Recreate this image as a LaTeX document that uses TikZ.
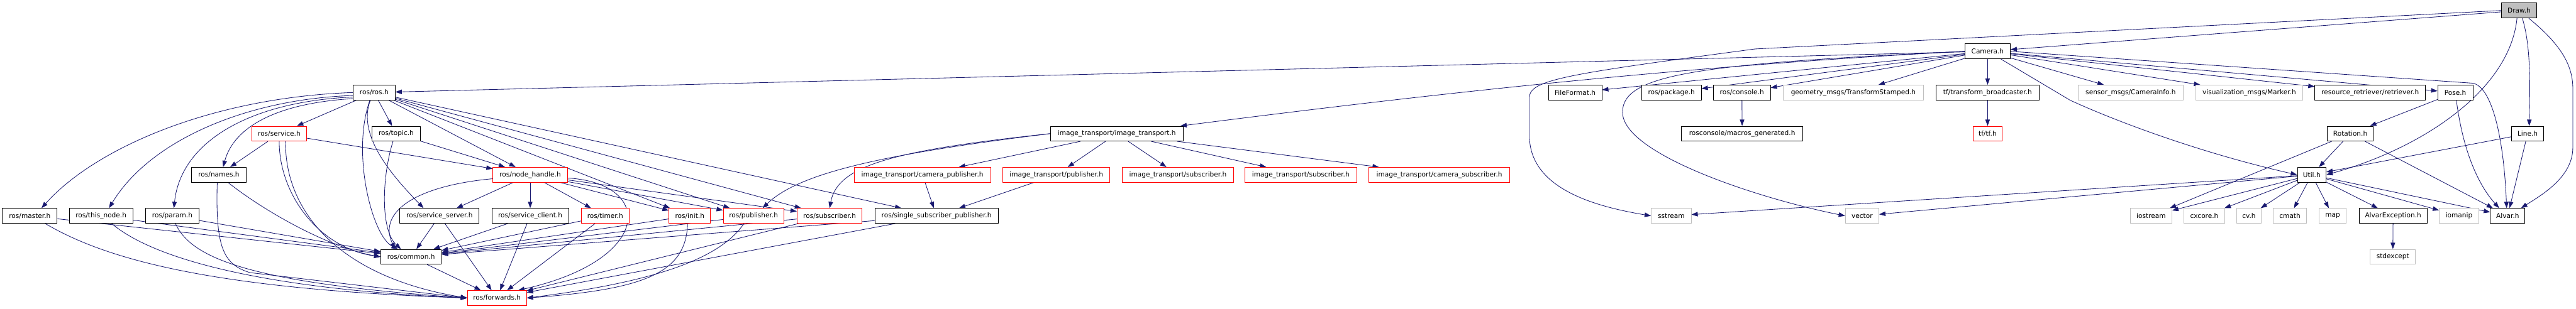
\documentclass[tikz,border=0pt]{standalone}
\usepackage{fontspec}
\setmainfont{DejaVu Sans}
\usetikzlibrary{arrows.meta}
\pgfdeclarelayer{edgelayer}
\pgfsetlayers{edgelayer,main}
\definecolor{edgecol}{HTML}{191970}
\definecolor{extgray}{HTML}{BFBFBF}
\definecolor{rootfill}{HTML}{BFBFBF}
\tikzset{
  hbox/.style={draw=black, fill=white, line width=1pt, minimum height=28pt, inner sep=0pt, font=\fontsize{12.5}{14}\selectfont},
  extbox/.style={hbox, draw=extgray},
  redbox/.style={hbox, draw=red},
  rootbox/.style={hbox, fill=rootfill},
  dep/.style={draw=edgecol, line width=1pt, -{Triangle[length=12pt,width=8.5pt]}},
}
\begin{document}
\begin{tikzpicture}[x=1pt, y=-1.11111pt]
\useasboundingbox (0,0) rectangle (4844,522.9);
% row 0 / camera row
\node[rootbox, minimum width=66pt] (draw) at (4737,17.8) {Draw.h};
\node[hbox, minimum width=85pt] (camera) at (3737.5,87) {Camera.h};
% row 1
\node[hbox, minimum width=79pt] (ros) at (703.5,156.8) {ros/ros.h};
\node[hbox, minimum width=100pt] (fileformat) at (2962,156.8) {FileFormat.h};
\node[hbox, minimum width=112pt] (package) at (3143,156.8) {ros/package.h};
\node[hbox, minimum width=107pt] (console) at (3275.5,156.8) {ros/console.h};
\node[extbox, minimum width=264pt] (geom) at (3485,156.8) {geometry\_msgs/TransformStamped.h};
\node[hbox, minimum width=193pt] (tfb) at (3737.5,156.8) {tf/transform\_broadcaster.h};
\node[extbox, minimum width=197pt] (sensor) at (4006.5,156.8) {sensor\_msgs/CameraInfo.h};
\node[extbox, minimum width=201pt] (vis) at (4229.5,156.8) {visualization\_msgs/Marker.h};
\node[hbox, minimum width=208pt] (retr) at (4457,156.8) {resource\_retriever/retriever.h};
\node[hbox, minimum width=66pt] (pose) at (4617,156.8) {Pose.h};
% row 2
\node[redbox, minimum width=102pt] (service) at (525,226.5) {ros/service.h};
\node[hbox, minimum width=90pt] (topic) at (745,226.5) {ros/topic.h};
\node[hbox, minimum width=250pt] (itit) at (2100,226.5) {image\_transport/image\_transport.h};
\node[hbox, minimum width=228pt] (macros) at (3276,226.5) {rosconsole/macros\_generated.h};
\node[redbox, minimum width=55pt] (tftf) at (3737.5,226.5) {tf/tf.h};
\node[hbox, minimum width=87pt] (rotation) at (4419.5,226.5) {Rotation.h};
\node[hbox, minimum width=60pt] (line) at (4753,226.5) {Line.h};
% row 3
\node[hbox, minimum width=103pt] (names) at (411.5,296.2) {ros/names.h};
\node[redbox, minimum width=140pt] (nh) at (997,296.2) {ros/node\_handle.h};
\node[redbox, minimum width=257pt] (campub) at (1734.5,296.2) {image\_transport/camera\_publisher.h};
\node[redbox, minimum width=201pt] (itpub) at (1986.5,296.2) {image\_transport/publisher.h};
\node[redbox, minimum width=210pt] (itsub1) at (2215,296.2) {image\_transport/subscriber.h};
\node[redbox, minimum width=210pt] (itsub2) at (2446,296.2) {image\_transport/subscriber.h};
\node[redbox, minimum width=265pt] (camsub) at (2706.5,296.2) {image\_transport/camera\_subscriber.h};
\node[hbox, minimum width=54pt] (util) at (4347,296.2) {Util.h};
% row 4
\node[hbox, minimum width=103pt] (master) at (56,365.8) {ros/master.h};
\node[hbox, minimum width=120pt] (thisnode) at (190,365.8) {ros/this\_node.h};
\node[hbox, minimum width=100pt] (param) at (324,365.8) {ros/param.h};
\node[hbox, minimum width=149pt] (sserver) at (826.5,365.8) {ros/service\_server.h};
\node[hbox, minimum width=144pt] (sclient) at (997,365.8) {ros/service\_client.h};
\node[redbox, minimum width=90pt] (timer) at (1138,365.8) {ros/timer.h};
\node[redbox, minimum width=78pt] (init) at (1297,365.8) {ros/init.h};
\node[redbox, minimum width=114pt] (pub) at (1417,365.8) {ros/publisher.h};
\node[redbox, minimum width=122pt] (sub) at (1560,365.8) {ros/subscriber.h};
\node[hbox, minimum width=232pt] (ssp) at (1761,365.8) {ros/single\_subscriber\_publisher.h};
\node[extbox, minimum width=75pt] (sstream) at (3142.5,365.8) {sstream};
\node[extbox, minimum width=63pt] (vector) at (3501.5,365.8) {vector};
\node[extbox, minimum width=78pt] (iostream) at (4045,365.8) {iostream};
\node[extbox, minimum width=76pt] (cxcore) at (4145,365.8) {cxcore.h};
\node[extbox, minimum width=46pt] (cvh) at (4229,365.8) {cv.h};
\node[extbox, minimum width=62pt] (cmath) at (4306,365.8) {cmath};
\node[extbox, minimum width=51pt] (map) at (4386.5,365.8) {map};
\node[hbox, minimum width=128pt] (aexc) at (4500,365.8) {AlvarException.h};
\node[extbox, minimum width=74pt] (iomanip) at (4624,365.8) {iomanip};
\node[hbox, minimum width=65pt] (alvar) at (4715.5,365.8) {Alvar.h};
% row 5 / 6
\node[hbox, minimum width=114pt] (common) at (773,435.2) {ros/common.h};
\node[extbox, minimum width=85pt] (stdexcept) at (4499.5,435.2) {stdexcept};
\node[redbox, minimum width=111pt] (forwards) at (934.5,505) {ros/forwards.h};

\begin{pgfonlayer}{edgelayer}
% ---- Draw.h
\draw[dep] (draw) -- (camera);
\draw[dep] (draw.west) -- (3300,83) .. controls (2950,125) and (2876,135) .. (2876,165) -- (2876,230) .. controls (2876,320) and (3000,350) .. (sstream.west);
\draw[dep] ([xshift=-4pt]draw.south) .. controls (4720,150) and (4560,250) .. (util.east);
\draw[dep] ([xshift=6pt]draw.south) .. controls (4760,80) and (4757,150) .. ([xshift=3pt]line.north);
\draw[dep] ([xshift=18pt]draw.south) .. controls (4815,75) and (4838,110) .. (4838,150) -- (4838,250) .. controls (4838,300) and (4780,330) .. ([xshift=25pt]alvar.north);
% ---- Camera.h
\draw[dep] (camera) -- (ros);
\draw[dep] (camera.west) .. controls (3100,115) and (2600,170) .. ([xshift=-6pt]itit.north east);
\draw[dep] (camera) -- (fileformat);
\draw[dep] (camera) -- (package);
\draw[dep] (camera) -- (console);
\draw[dep] (camera) -- (geom);
\draw[dep] (camera) -- (tfb);
\draw[dep] (camera) -- (sensor);
\draw[dep] (camera) -- (vis);
\draw[dep] (camera) -- (retr);
\draw[dep] (camera) -- (pose);
\draw[dep] (camera.west) .. controls (3200,108) and (3051,125) .. (3051,190) .. controls (3051,260) and (3300,335) .. (vector.west);
\draw[dep] ([xshift=25pt]camera.south) -- (3893,170) .. controls (3990,210) and (4150,262) .. (util.west);
\draw[dep] (camera.east) -- (4650,141) .. controls (4685,147) and (4708,230) .. ([xshift=-2pt]alvar.north);
% ---- others in the Alvar part
\draw[dep] (console) -- (macros);
\draw[dep] (tfb) -- (tftf);
\draw[dep] (pose) -- (rotation);
\draw[dep] ([xshift=2pt]pose.south) .. controls (4632,260) and (4662,315) .. ([xshift=-16pt]alvar.north);
\draw[dep] (rotation) -- (util);
\draw[dep] (rotation) -- (iostream);
\draw[dep] (rotation) -- (alvar);
\draw[dep] (line) -- (util);
\draw[dep] (line) -- (alvar);
\draw[dep] (util) -- (iostream);
\draw[dep] (util) -- (cxcore);
\draw[dep] (util) -- (cvh);
\draw[dep] (util) -- (cmath);
\draw[dep] (util) -- (map);
\draw[dep] (util) -- (aexc);
\draw[dep] (util) -- (iomanip);
\draw[dep] (util) -- (alvar);
\draw[dep] (util) -- (sstream);
\draw[dep] (util) -- (vector);
\draw[dep] (aexc) -- (stdexcept);
% ---- image_transport
\draw[dep] (itit.west) .. controls (1650,262) and (1500,295) .. ([xshift=17pt]pub.north);
\draw[dep] (itit.west) .. controls (1680,255) and (1575,280) .. (sub.north);
\draw[dep] (itit) -- (campub);
\draw[dep] (itit) -- (itpub);
\draw[dep] (itit) -- (itsub1);
\draw[dep] (itit) -- (itsub2);
\draw[dep] (itit) -- (camsub);
\draw[dep] (campub) -- (ssp);
\draw[dep] (itpub) -- (ssp);
% ---- ros/ros.h
\draw[dep] (ros.west) .. controls (400,165) and (180,250) .. ([xshift=22pt]master.north);
\draw[dep] (ros.188) .. controls (460,168) and (280,240) .. ([xshift=15pt]thisnode.north);
\draw[dep] (ros.192) .. controls (470,172) and (340,240) .. ([xshift=3pt]param.north);
\draw[dep] (ros.196) .. controls (520,175) and (440,215) .. ([xshift=8pt]names.north);
\draw[dep] (ros) -- (service);
\draw[dep] (ros) -- (topic);
\draw[dep] (ros) -- (nh);
\draw[dep] ([xshift=-7pt]ros.south) .. controls (670,230) and (740,300) .. ([xshift=-30pt]sserver.north);
\draw[dep] ([xshift=-8pt]ros.south) .. controls (660,260) and (700,400) .. ([xshift=-25pt]common.north);
\draw[dep] (ros) -- (init);
\draw[dep] (ros) -- (pub);
\draw[dep] (ros) -- (sub);
\draw[dep] (ros) -- (ssp);
% ---- service / topic / names
\draw[dep] (service) -- (names);
\draw[dep] (service) -- (nh);
\draw[dep] (service.south) .. controls (525,330) and (600,420) .. (common.west);
\draw[dep] ([xshift=12pt]service.south) .. controls (535,360) and (640,470) .. (forwards.west);
\draw[dep] (topic) -- (nh);
\draw[dep] ([xshift=-6pt]topic.south) .. controls (718,300) and (715,390) .. ([xshift=-19pt]common.north);
\draw[dep] (names.-40) .. controls (500,360) and (620,420) .. (common.west);
\draw[dep] ([xshift=-3pt]names.south) .. controls (405,420) and (420,448) .. (470,462) -- (forwards.west);
% ---- node_handle
\draw[dep] (nh.186) .. controls (780,315) and (710,360) .. ([xshift=-30pt]common.north);
\draw[dep] (nh) -- (sserver);
\draw[dep] (nh) -- (sclient);
\draw[dep] (nh) -- (timer);
\draw[dep] (nh) -- (init);
\draw[dep] (nh) -- (pub);
\draw[dep] (nh) -- (sub);
\draw[dep] (nh.355) .. controls (1230,310) and (1230,440) .. (forwards.20);
% ---- to common.h
\draw[dep] (master) -- (common);
\draw[dep] (thisnode) -- (common);
\draw[dep] (param) -- (common);
\draw[dep] (sserver) -- (common);
\draw[dep] (sclient) -- (common);
\draw[dep] (timer) -- (common);
\draw[dep] (init) -- (common);
\draw[dep] (pub) -- (common);
\draw[dep] (sub) -- (common);
\draw[dep] (ssp) -- (common);
% ---- to forwards.h
\draw[dep] ([xshift=29pt]master.south) .. controls (200,440) and (400,490) .. (forwards.west);
\draw[dep] ([xshift=20pt]thisnode.south) .. controls (290,440) and (500,490) .. (forwards.west);
\draw[dep] ([xshift=6pt]param.south) .. controls (360,440) and (480,480) .. (forwards.west);
\draw[dep] (sserver) -- (forwards);
\draw[dep] (sclient) -- (forwards);
\draw[dep] (timer) -- (forwards);
\draw[dep] ([xshift=-4pt]init.south) .. controls (1290,460) and (1220,490) .. (forwards.east);
\draw[dep] ([xshift=-18pt]pub.south) .. controls (1360,430) and (1260,475) .. (forwards.east);
\draw[dep] (sub) -- (forwards);
\draw[dep] (ssp) -- (forwards);
\draw[dep] (common) -- (forwards);
\end{pgfonlayer}
\end{tikzpicture}
\end{document}
